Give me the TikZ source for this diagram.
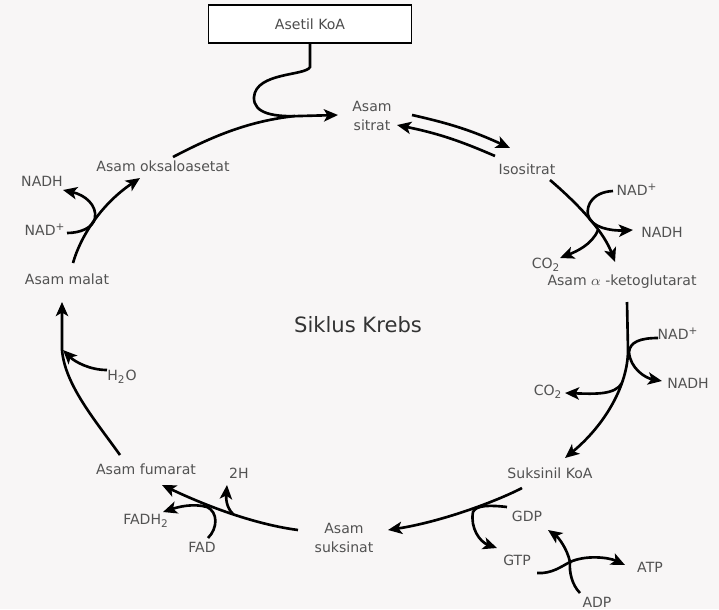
\documentclass[tikz,border=0pt]{standalone}
\usepackage{fontspec}
\setmainfont{DejaVu Sans}
\usepackage{tikz}
\usetikzlibrary{arrows.meta}
\definecolor{bgpaper}{RGB}{248,246,246}
\definecolor{inkgray}{RGB}{82,82,82}

\begin{document}
\begin{tikzpicture}[
  x=0.02cm, y=-0.02cm,
  mol/.style={
    font=\fontsize{8}{10.5}\selectfont, text=inkgray,
    align=center, inner sep=1pt
  },
  flow/.style={line width=1.5pt},
  rxn/.style={flow, -{Stealth[length=8pt, width=7pt, inset=2pt]}}
]
  \fill[bgpaper] (0,0) rectangle (719,609);
  \node[mol, draw=black, line width=1.1pt, fill=white, text=black!70,
    minimum width=4.06cm, minimum height=0.76cm] (asetil) at (310,24){Asetil KoA};
  \foreach \x/\y/\nm/\txt in {
    372/116/sitrat/{Asam\\sitrat},
    527/169/isositrat/{Isositrat},
    622/282/akg/{Asam $\alpha$ -ketoglutarat},
    550/473/suksinil/{Suksinil KoA},
    344/538/suksinat/{Asam\\suksinat},
    146/469/fumarat/{Asam fumarat},
    67/279/malat/{Asam malat},
    163/166/oksalo/{Asam oksaloasetat},
    637/190/nadA/{NAD\textsuperscript{+}},
    662/232/nadhA/{NADH},
    546/265/coA/{CO\textsubscript{2}},
    678/334/nadB/{NAD\textsuperscript{+}},
    688/383/nadhB/{NADH},
    548/392/coB/{CO\textsubscript{2}},
    527/516/gdp/{GDP},
    517/560/gtp/{GTP},
    650/567/atp/{ATP},
    597/602/adp/{ADP},
    239/473/duaH/{2H},
    202/547/fad/{FAD},
    146/521/fadh/{FADH\textsubscript{2}},
    122/377/air/{H\textsubscript{2}O},
    45/230/nadC/{NAD\textsuperscript{+}},
    42/181/nadhC/{NADH}} {
    \node[mol] (\nm) at (\x,\y){\txt};
  }
  \node[font=\fontsize{12}{14}\selectfont, text=black!80] (judul) at (358,325){Siklus Krebs};

  \coordinate (jA) at (588,215);
  \coordinate (jB) at (598,230);
  \coordinate (jC) at (629,352);
  \coordinate (jD) at (622,383);
  \coordinate (jE) at (473,512);
  \coordinate (jF) at (570,562);
  \coordinate (jG) at (233,514);
  \coordinate (jH) at (207,507);
  \coordinate (jI) at (63,350);
  \coordinate (jJ) at (95,218);
  \coordinate (jK) at (295,116);

  \draw[rxn] (asetil.south) -- (310,67) .. controls (306,76) and (256,72) .. (254,97)
    .. controls (253,114) and (275,117) .. (300,116) -- ([shift={(-34,-1)}]sitrat.center);
  \draw[flow] ([shift={(10,-9)}]oksalo.center) .. controls (215,135) and (250,121) .. (jK);
  \draw[rxn] ([shift={(40,-1)}]sitrat.center) to[bend left=6] ([shift={(-17,-21)}]isositrat.center);
  \draw[rxn] ([shift={(-32,-13)}]isositrat.center) to[bend right=6] ([shift={(25,9)}]sitrat.center);

  \draw[rxn] ([shift={(23,11)}]isositrat.center) .. controls (585,210) and (605,235) .. ([shift={(-7,-20)}]akg.center);
  \draw[rxn] ([shift={(-24,1)}]nadA.center) .. controls (593,192) and (586,205) .. (jA)
    .. controls (591,228) and (612,231) .. ([shift={(-29,-2)}]nadhA.center);
  \draw[rxn] (jB) .. controls (592,245) and (575,252) .. ([shift={(14,-7)}]coA.center);

  \draw[rxn] ([shift={(5,20)}]akg.center) -- (628,350) .. controls (628,385) and (605,425) .. ([shift={(15,-15)}]suksinil.center);
  \draw[rxn] ([shift={(-20,4)}]nadB.center) .. controls (640,338) and (630,342) .. (jC)
    .. controls (630,368) and (645,378) .. ([shift={(-26,-2)}]nadhB.center);
  \draw[rxn] (jD) .. controls (615,395) and (595,394) .. ([shift={(17,1)}]coB.center);

  \draw[rxn] ([shift={(-28,15)}]suksinil.center) .. controls (495,502) and (440,522) .. ([shift={(44,-8)}]suksinat.center);
  \draw[rxn] ([shift={(-20,-9)}]gdp.center) .. controls (490,505) and (476,505) .. (jE)
    .. controls (470,528) and (480,542) .. ([shift={(-20,-12)}]gtp.center);
  \draw[rxn] ([shift={(20,13)}]gtp.center) .. controls (552,574) and (562,566) .. (jF)
    .. controls (585,555) and (608,557) .. ([shift={(-25,-2)}]atp.center);
  \draw[rxn] ([shift={(-17,-9)}]adp.center) .. controls (572,585) and (569,572) .. (jF)
    .. controls (567,548) and (558,537) .. ([shift={(21,14)}]gdp.center);

  \draw[rxn] ([shift={(-46,-8)}]suksinat.center) .. controls (260,525) and (215,510) .. ([shift={(16,16)}]fumarat.center);
  \draw[rxn] (jG) .. controls (226,507) and (226,498) .. ([shift={(-12,12)}]duaH.center);
  \draw[rxn] ([shift={(6,-9)}]fad.center) .. controls (218,528) and (218,512) .. (jH)
    .. controls (193,503) and (178,507) .. ([shift={(17,-9)}]fadh.center);

  \draw[rxn] ([shift={(-26,-14)}]fumarat.center) .. controls (95,420) and (65,385) .. (62,350) -- ([shift={(-5,23)}]malat.center);
  \draw[rxn] ([shift={(-15,-7)}]air.center) .. controls (90,370) and (75,362) .. (jI);

  \draw[rxn] ([shift={(6,-16)}]malat.center) .. controls (80,238) and (100,205) .. ([shift={(-23,12)}]oksalo.center);
  \draw[rxn] ([shift={(22,3)}]nadC.center) .. controls (80,233) and (93,228) .. (jJ)
    .. controls (97,205) and (85,195) .. ([shift={(21,9)}]nadhC.center);
\end{tikzpicture}
\end{document}
